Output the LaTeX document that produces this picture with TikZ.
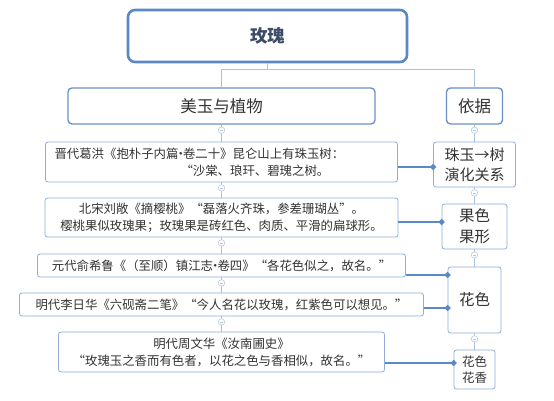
\documentclass[tikz,border=0pt]{standalone}
\usepackage{fontspec}
\setmainfont{Noto Sans CJK SC}
\usetikzlibrary{arrows.meta,calc}
\definecolor{mmroot}{RGB}{91,135,197}
\definecolor{mmmain}{RGB}{107,146,200}
\definecolor{mmbox}{RGB}{142,173,216}
\definecolor{mmtree}{RGB}{169,193,224}
\definecolor{mmlink}{RGB}{90,137,200}
\definecolor{mmfold}{RGB}{185,201,221}
\definecolor{mmtext}{RGB}{51,51,51}
\definecolor{mmtitle}{RGB}{60,75,103}
\newcommand{\middot}{\makebox[4.5pt][c]{·}}

\begin{document}
\begin{tikzpicture}[x=1pt, y=-1pt,
      rootcard/.style={draw=mmroot, line width=2.6pt, rounded corners=7pt, fill=white, text=mmtitle, font=\fontsize{17.5}{20}\selectfont\bfseries},
      maincard/.style={draw=mmmain, line width=1.4pt, rounded corners=4pt, fill=white, text=mmtext, font=\fontsize{16.5}{20}\selectfont},
      qcard/.style={draw=mmbox, line width=0.8pt, rounded corners=2.5pt, fill=white, text=mmtext, align=center, inner sep=0pt, font=\fontsize{12.4}{17}\selectfont},
      tag/.style={qcard, font=\fontsize{15.5}{21}\selectfont},
      tree/.style={draw=mmtree, line width=0.8pt},
      link/.style={draw=mmlink, line width=2pt, -{Circle[length=5.5pt]}, shorten >=-2.75pt},
      fold/.style={circle, draw=mmfold, fill=white, line width=0.6pt, minimum size=6.5pt, inner sep=0pt,
        path picture={\draw[mmfold, line width=0.6pt] ([xshift=-1.6pt]path picture bounding box.center) -- ([xshift=1.6pt]path picture bounding box.center);}}
    ]
      \path[use as bounding box, fill=white] (0,0) rectangle (554,400);

      % Root and first level
      \node[rootcard, minimum width=279, minimum height=52] (rose) at (267.5,36) {玫瑰};
      \node[maincard, minimum width=307, minimum height=36] (jade) at (221.5,106) {美玉与植物};
      \node[maincard, minimum width=56, minimum height=36] (basis) at (474.5,106) {依据};

      % Sources
      \node[qcard, minimum width=352, minimum height=40, text width=334, align=left] (q1) at (221.5,162) {晋代葛洪《抱朴子内篇\middot 卷二十》昆仑山上有珠玉树：\\\rule{126pt}{0pt}“沙棠、琅玕、碧瑰之树。};
      \node[qcard, minimum width=353, minimum height=39] (q2) at (221.5,217.5) {北宋刘敞《摘樱桃》“磊落火齐珠，参差珊瑚丛”。\\樱桃果似玫瑰果；玫瑰果是砖红色、肉质、平滑的扁球形。};
      \node[qcard, minimum width=368, minimum height=23] (q3) at (221.5,265.5) {元代俞希鲁《（至顺）镇江志\middot 卷四》“各花色似之，故名。”};
      \node[qcard, minimum width=404, minimum height=23] (q4) at (221.5,304.5) {明代李日华《六砚斋二笔》“今人名花以玫瑰，红紫色可以想见。”};
      \node[qcard, minimum width=326, minimum height=40] (q5) at (221.5,352) {明代周文华《汝南圃史》\\“玫瑰玉之香而有色者，以花之色与香相似，故名。”};

      % Evidence
      \node[tag, minimum width=82, minimum height=45, font=\fontsize{15}{20}\selectfont] (pearl) at (474.5,164.5) {珠玉→树\\演化关系};
      \node[tag, minimum width=65, minimum height=45] (fruit) at (474.5,226.5) {果色\\果形};
      \node[tag, minimum width=53, minimum height=66] (flower) at (474.5,300) {花色};
      \node[qcard, minimum width=41, minimum height=39, font=\fontsize{12.5}{16}\selectfont] (scent) at (474.5,369.5) {花色\\花香};

      % Tree lines
      \coordinate (bar) at (0,69);
      \draw[tree] (rose.south) -- (rose.south |- bar);
      \draw[tree] (jade.north) |- (bar -| basis.north) -- (basis.north);
      \foreach \a/\b in {jade/q1, q1/q2, q2/q3, q3/q4, q4/q5, basis/pearl, pearl/fruit, fruit/flower, flower/scent}
        \draw[tree] (\a.south) -- (\b.north);
      \foreach \n in {jade, q1, q2, q3, q4, basis, pearl, fruit, flower}
        \node[fold] (f-\n) at ([yshift=-5.5pt]\n.south) {};

      % Links
      \draw[link] ([yshift=-5pt]q1.east) -- ([yshift=-5pt]q1.east -| pearl.west);
      \draw[link] ([yshift=-4.5pt]q2.east) -- ([yshift=-4.5pt]q2.east -| fruit.west);
      \draw[link] ([yshift=-9.5pt]q3.east) -- ([yshift=-9.5pt]q3.east -| flower.west);
      \draw[link] ([yshift=-3.5pt]q4.east) -- ([yshift=-3.5pt]q4.east -| flower.west);
      \draw[link] ([yshift=-11pt]q5.east) -- ([yshift=-11pt]q5.east -| scent.west);
    \end{tikzpicture}
\end{document}
